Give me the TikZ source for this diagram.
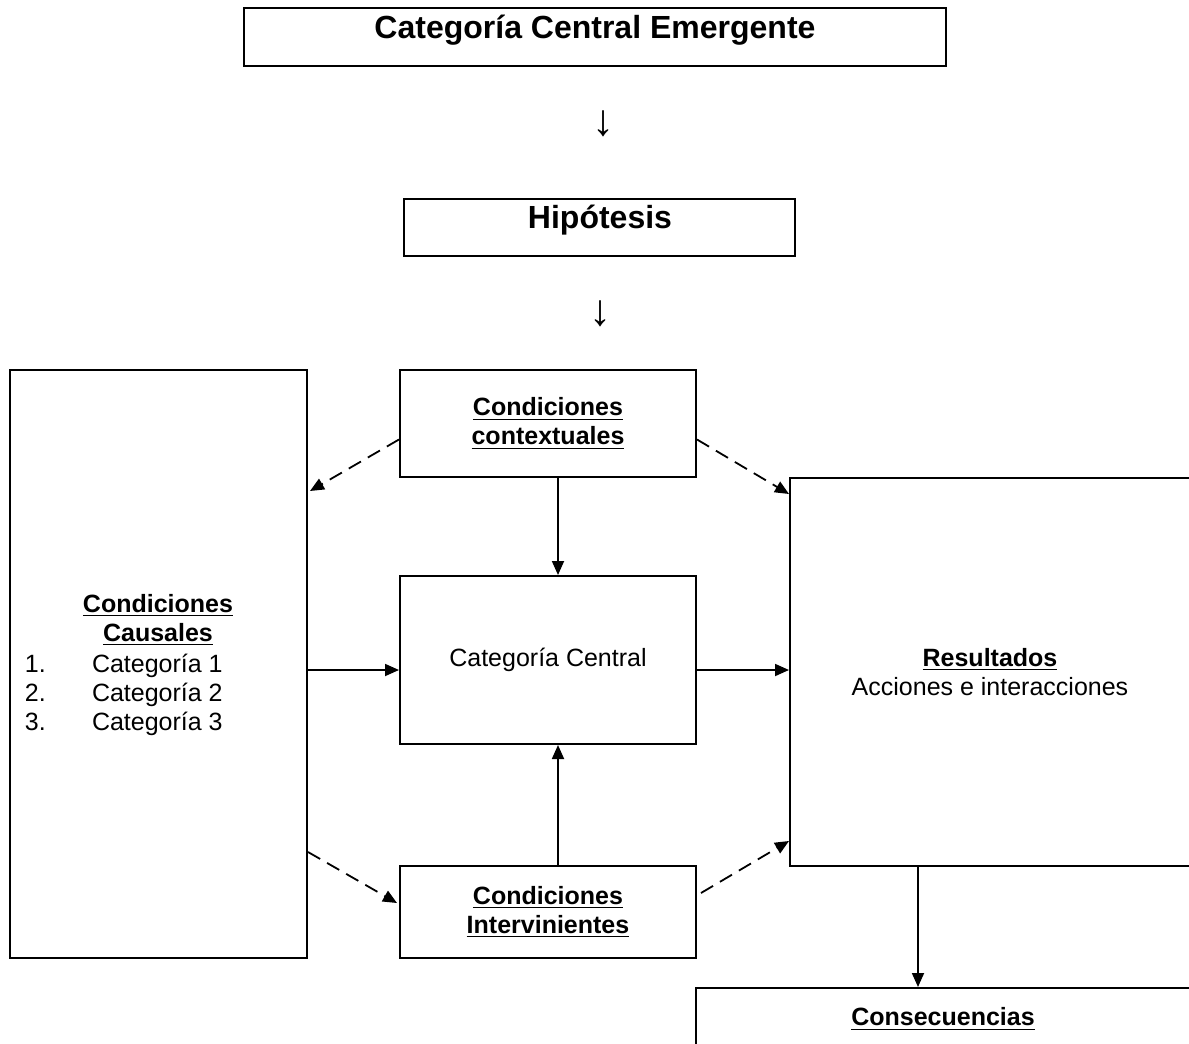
\documentclass[tikz,border=0pt]{standalone}
\usepackage{fontspec}
\setmainfont{Liberation Sans}
\usetikzlibrary{arrows.meta}

\tikzset{every picture/.style={line width=1pt}}
\tikzset{
  caja/.style={draw, line width=1pt, inner sep=0pt, align=center, font=\fontsize{12.5}{14.5}\selectfont},
  titulo/.style={inner sep=0pt, font=\fontsize{16}{19}\selectfont\bfseries},
  texto/.style={inner sep=0pt, font=\fontsize{12.5}{14.5}\selectfont},
  flecha/.style={-{Triangle[length=7pt,width=6pt]}, line width=0.9pt},
  flechad/.style={flecha, dash pattern=on 7pt off 4pt},
}

\begin{document}
\begin{tikzpicture}[x=0.5pt,y=0.5pt,yscale=-1,xscale=1]
\useasboundingbox (0,0) rectangle (1189,1044);

%Shape: Rectangle [emergente]
\node[caja, minimum width=351pt, minimum height=29pt] (emerg) at (595,37) {};
% Text Node
\node[titulo] (emergtxt) at (595,30) {Categoría Central Emergente};
% Text Node
\node[inner sep=0pt, font=\fontsize{22}{24}\selectfont] (baja1) at (603,124) {↓};

%Shape: Rectangle [hipotesis]
\node[caja, minimum width=195.5pt, minimum height=28.5pt] (hip) at (599.5,227.5) {};
% Text Node
\node[titulo] (hiptxt) at (600,220) {Hipótesis};
% Text Node
\node[inner sep=0pt, font=\fontsize{22}{24}\selectfont] (baja2) at (600,314) {↓};

%Shape: Rectangle [causales]
\node[caja, minimum width=148.5pt, minimum height=294pt] (caus) at (158.5,664) {};
% Text Node
\node[texto, align=center] (caushead) at (158,620) {\textbf{\underline{Condiciones}}\\\textbf{\underline{Causales}}};
\foreach \n in {1,2,3} {
  \node[texto, anchor=base west] (num\n) at (24,643+29*\n) {\n.};
  \node[texto, anchor=base west] (cat\n) at (91,643+29*\n) {Categoría \n};
}

%Shape: Rectangle [contextuales]
\node[caja, minimum width=148pt, minimum height=53.5pt] (ctx) at (548,423.5) {\textbf{\underline{Condiciones}}\\\textbf{\underline{contextuales}}};
%Shape: Rectangle [central]
\node[caja, minimum width=148pt, minimum height=84pt] (cen) at (548,660) {Categoría Central};
%Shape: Rectangle [intervinientes]
\node[caja, minimum width=148pt, minimum height=46pt] (intv) at (548,912) {\textbf{\underline{Condiciones}}\\\textbf{\underline{Intervinientes}}};
%Shape: Rectangle [resultados]
\node[caja, minimum width=200pt, minimum height=194pt] (res) at (990,672) {\textbf{\underline{Resultados}}\\Acciones e interacciones};
%Shape: Rectangle [consecuencias]
\node[caja, minimum width=247pt, minimum height=31pt] (cons) at (943,1019) {\textbf{\underline{Consecuencias}}};

%Straight Lines
\draw[flecha] ([xshift=5pt]ctx.south) -- ([xshift=5pt]cen.north);
\draw[flecha] ([xshift=5pt]intv.north) -- ([xshift=5pt]cen.south);
\draw[flecha] ([yshift=3pt]caus.east) -- ([yshift=5pt]cen.west);
\draw[flecha] ([yshift=5pt]cen.east) -- ([yshift=-1pt]res.west);
\draw[flecha] ([xshift=-36pt]res.south) -- ([xshift=-12.5pt]cons.north);

%Dashed Lines
\draw[flechad] ([yshift=8pt]ctx.west) -- ([xshift=1pt,yshift=61pt]caus.north east);
\draw[flechad] ([yshift=8pt]ctx.east) -- ([yshift=8.5pt]res.north west);
\draw[flechad] ([yshift=94pt]caus.east) -- ([xshift=-1pt,yshift=-4.5pt]intv.west);
\draw[flechad] ([xshift=2pt,yshift=-9.5pt]intv.east) -- ([yshift=-13pt]res.south west);

\end{tikzpicture}
\end{document}
